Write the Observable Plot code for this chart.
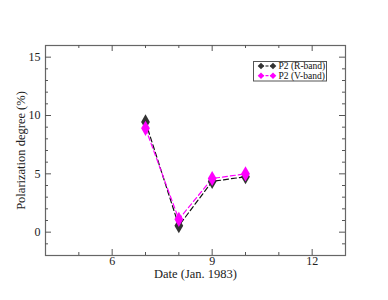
<!DOCTYPE html>
<html>
<head>
<meta charset="utf-8">
<script src="https://cdn.jsdelivr.net/npm/d3@7"></script>
<script src="https://cdn.jsdelivr.net/npm/@observablehq/plot@0.6"></script>
<style>
  body { margin: 0; background: #fff; }
  #wrap { position: relative; width: 388px; height: 300px; }
  #legend { position: absolute; left: 253px; top: 61px; }
</style>
</head>
<body>
<div id="wrap"></div>
<script>
const dates = [7, 8, 9, 10];
const rBand = [9.45, 0.55, 4.35, 4.75];
const vBand = [8.9, 1.1, 4.6, 5.0];
const seriesNames = ["P2 (R-band)", "P2 (V-band)"];
const seriesColors = ["#333333", "#ff00ff"];
const seriesLine = ["#111111", "#ff00ff"];
const xMajor = [6, 9, 12];
const xMinor = [5, 7, 8, 10, 11];
const yMajor = [0, 5, 10, 15];
const yMinor = [-1, 1, 2, 3, 4, 6, 7, 8, 9, 11, 12, 13, 14];

const data = [];
dates.forEach((d, i) => data.push({date: d, value: rBand[i], series: seriesNames[0]}));
dates.forEach((d, i) => data.push({date: d, value: vBand[i], series: seriesNames[1]}));

const W = 388, H = 300, mL = 45, mR = 43, mT = 45, mB = 45;
const pw = W - mL - mR, ph = H - mT - mB;
const tickColor = "#555";

const chart = Plot.plot({
  width: W, height: H,
  marginLeft: mL, marginRight: mR, marginTop: mT, marginBottom: mB,
  style: {fontFamily: "Liberation Serif, serif", fontSize: "12px", color: "#222", background: "#fff"},
  x: {domain: [4, 13]},
  y: {domain: [-2, 16]},
  marks: [
    Plot.frame({stroke: "#666", strokeWidth: 1.2}),
    Plot.tickX(xMajor, {x: d => d, insetTop: ph - 6, stroke: tickColor}),
    Plot.tickX(xMajor, {x: d => d, insetBottom: ph - 6, stroke: tickColor}),
    Plot.tickX(xMinor, {x: d => d, insetTop: ph - 3, stroke: tickColor}),
    Plot.tickX(xMinor, {x: d => d, insetBottom: ph - 3, stroke: tickColor}),
    Plot.tickY(yMajor, {y: d => d, insetRight: pw - 6, stroke: tickColor}),
    Plot.tickY(yMajor, {y: d => d, insetLeft: pw - 6, stroke: tickColor}),
    Plot.tickY(yMinor, {y: d => d, insetRight: pw - 3, stroke: tickColor}),
    Plot.tickY(yMinor, {y: d => d, insetLeft: pw - 3, stroke: tickColor}),
    Plot.axisX({ticks: xMajor, tickSize: 0, tickPadding: 1, label: null, fontSize: 12}),
    Plot.axisX({ticks: [], tickSize: 0, label: "Date (Jan. 1983)", labelAnchor: "center", labelArrow: "none", labelOffset: 22, fontSize: 12.5}),
    Plot.axisY({ticks: yMajor, tickSize: 0, tickPadding: 5, label: null, fontSize: 12}),
    Plot.axisY({ticks: [], tickSize: 0, label: "Polarization degree (%)", labelAnchor: "center", labelArrow: "none", labelOffset: 29, fontSize: 12.5}),
    Plot.line(data, {x: "date", y: "value", z: "series", stroke: d => d.series === seriesNames[0] ? seriesLine[0] : seriesLine[1], strokeWidth: 1.2, strokeDasharray: "5,3"}),
    Plot.dot(data, {x: "date", y: "value", symbol: "diamond", r: 4.6, fill: d => d.series === seriesNames[0] ? seriesColors[0] : seriesColors[1], stroke: "none"})
  ]
});
document.getElementById("wrap").appendChild(chart);

// legend as a small SVG overlay
const NS = "http://www.w3.org/2000/svg";
const leg = document.createElementNS(NS, "svg");
leg.setAttribute("id", "legend");
leg.setAttribute("width", 75);
leg.setAttribute("height", 21);
leg.innerHTML = `<rect x="0.5" y="0.5" width="73" height="19.5" fill="#fff" stroke="#555" stroke-width="1"/>`;
seriesNames.forEach((name, i) => {
  const cy = 5 + i * 9.7;
  const diamond = cx => `<path d="M${cx},${cy - 3.3} L${cx + 3.3},${cy} L${cx},${cy + 3.3} L${cx - 3.3},${cy}Z" fill="${seriesColors[i]}"/>`;
  leg.innerHTML += `<line x1="8" y1="${cy}" x2="20" y2="${cy}" stroke="${seriesLine[i]}" stroke-width="1.2" stroke-dasharray="3,1.5"/>` +
    diamond(8) + diamond(20) +
    `<text x="25.5" y="${cy}" dy="0.35em" font-family="Liberation Serif, serif" font-size="9.5" fill="#111">${name}</text>`;
});
document.getElementById("wrap").appendChild(leg);
</script>
</body>
</html>
